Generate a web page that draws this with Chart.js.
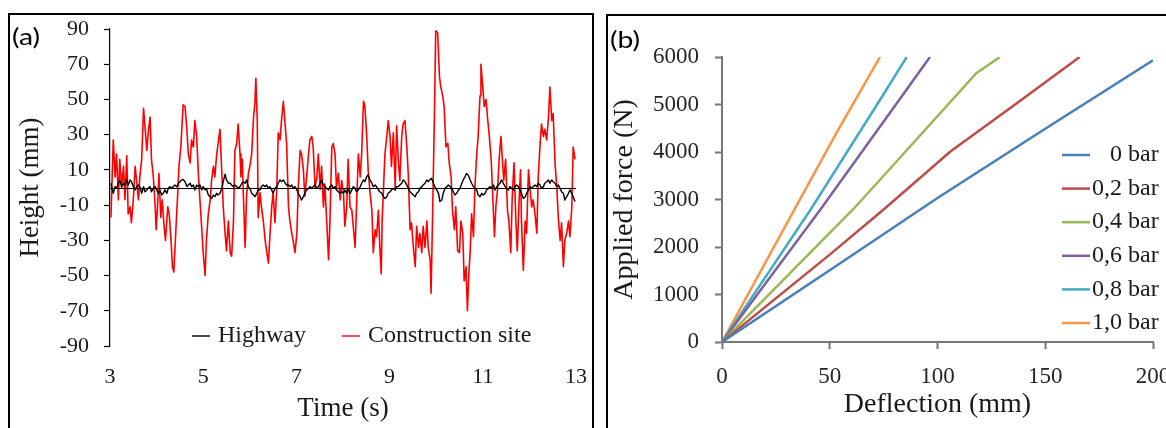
<!DOCTYPE html>
<html>
<head>
<meta charset="utf-8">
<title>Road height and applied force</title>
<script src="https://cdn.jsdelivr.net/npm/chart.js@4.4.0/dist/chart.umd.min.js"></script>
<style>
  * { margin: 0; padding: 0; }
  html, body { width: 1166px; height: 428px; overflow: hidden; background: #fff; }
  .panel { position: absolute; border: 2px solid #000; }
  #panelA { left: 8px; top: 13px; width: 582px; height: 440px; }
  #panelB { left: 606px; top: 14px; width: 600px; height: 440px; }
  .panel canvas { position: absolute; left: 0; top: 0; }
  .tag { position: absolute; font-family: Lato, 'Open Sans', sans-serif; font-size: 24px; line-height: 24px; color: #000;
         transform: scaleX(1.18); transform-origin: left center; }
</style>
</head>
<body>
  <div class="panel" id="panelA"><canvas id="chartA" width="582" height="413"></canvas></div>
  <div class="panel" id="panelB"><canvas id="chartB" width="580" height="412"></canvas></div>
  <div class="tag" style="left:12px; top:24px;">(a)</div>
  <div class="tag" style="left:610px; top:27px;">(b)</div>

<script>
// (a) Height (mm) against time (s)
const highwayTime = [
  3.02,3.07,3.11,3.14,3.18,3.21,3.25,3.29,3.32,3.36,3.39,3.43,3.46,3.50,3.54,3.57,3.61,3.64,3.68,3.72,
  3.75,3.79,3.82,3.86,3.89,3.93,3.97,4.00,4.04,4.07,4.11,4.14,4.18,4.22,4.25,4.29,4.32,4.36,4.39,4.43,
  4.47,4.50,4.54,4.57,4.61,4.65,4.68,4.72,4.75,4.79,4.82,4.86,4.90,4.93,4.97,5.00,5.04,5.07,5.11,5.15,
  5.18,5.22,5.25,5.29,5.32,5.36,5.40,5.43,5.47,5.50,5.54,
  5.58,5.61,5.65,5.68,5.72,5.75,5.79,5.83,5.86,5.90,5.93,5.97,6.00,6.04,6.08,6.11,6.15,6.18,6.22,6.25,
  6.29,6.33,6.36,6.40,6.43,6.47,6.50,6.54,6.58,6.61,6.65,6.68,6.72,6.76,6.79,6.83,6.86,6.90,6.93,6.97,
  7.01,7.04,7.08,7.11,7.15,7.18,7.22,7.26,7.29,7.33,7.36,7.40,7.44,7.47,7.51,7.54,7.58,7.61,7.65,7.69,
  7.72,7.76,7.79,7.83,7.86,7.90,7.94,7.97,8.01,8.04,8.08,8.11,
  8.15,8.19,8.22,8.26,8.29,8.33,8.37,8.40,8.44,8.47,8.51,8.54,8.58,8.62,8.65,8.69,8.72,8.76,8.79,8.83,
  8.87,8.90,8.94,8.97,9.01,9.04,9.08,9.12,9.15,9.19,9.22,9.26,9.29,9.33,9.37,9.40,9.44,9.47,9.51,9.55,
  9.58,9.62,9.65,9.69,9.72,9.76,9.80,9.83,9.87,9.90,9.94,9.97,10.01,10.05,10.08,10.12,10.15,10.19,10.23,10.26,
  10.30,10.33,10.37,10.40,10.44,10.48,10.51,10.55,10.58,10.62,10.65,10.69,
  10.73,10.76,10.80,10.83,10.87,10.90,10.94,10.98,11.01,11.05,11.08,11.12,11.15,11.19,11.23,11.26,11.30,11.33,11.37,11.40,
  11.44,11.48,11.51,11.55,11.58,11.62,11.66,11.69,11.73,11.76,11.80,11.83,11.87,11.91,11.94,11.98,12.01,12.05,12.08,12.12,
  12.16,12.19,12.23,12.26,12.30,12.33,12.37,12.41,12.44,12.48,12.51,12.55,12.59,12.62,12.66,12.69,12.73,12.76,12.80,12.84,
  12.87,12.91,12.94,12.98
];
const highwayHeight = [
  2.4,-3.3,0.5,-0.5,2.4,4.3,0.5,2.4,1.4,4.3,1.4,4.3,3.3,0.5,-1.4,0.5,1.4,0.5,-3.3,0.5,
  -2.4,-1.4,-0.5,0.5,-2.4,-0.5,0.5,-1.4,-3.3,-1.4,-4.3,-3.3,-1.4,-3.3,-0.5,0.5,-0.5,0.5,1.4,0.5,
  2.4,3.3,4.3,4.6,3.3,0.5,1.4,2.4,0.5,1.4,-1.4,1.4,0.5,1.4,-1.4,0.5,-1.4,-0.5,-4.3,-5.2,
  -6.2,-4.3,-5.2,-3.3,-4.3,-3.3,-0.5,3.3,7.5,4.3,2.4,
  2.4,1.4,0.5,1.4,0.5,-0.5,0.5,2.4,3.3,2.4,4.3,0.5,-0.5,-3.3,-4.3,-5.2,-3.3,-1.4,-1.4,0.5,
  1.4,0.5,1.4,-0.5,0.5,-1.4,-3.3,-0.5,0.5,2.4,4.3,3.3,4.3,2.4,1.4,1.4,0.5,1.4,-0.5,0.5,
  -1.4,-3.3,-5.2,-7.1,-5.2,-3.3,-1.4,-0.5,0.5,-0.5,0.5,1.4,-0.5,0.5,2.4,4.3,1.4,0.5,-0.5,-1.4,
  0.5,1.4,-0.5,0.5,-1.4,-2.4,-3.3,-2.4,-3.3,-1.4,-3.3,-0.5,
  -3.3,-1.4,0.5,-0.5,-2.4,-1.4,0.5,2.4,4.3,3.3,6.2,7.1,4.3,2.4,0.5,1.4,0.5,-1.4,-2.4,-3.3,
  -5.2,-6.2,-5.2,-3.3,-2.4,-1.4,-0.5,-1.4,0.5,0.5,1.4,2.4,4.3,3.3,1.4,-0.5,-2.4,-3.3,-4.3,-5.2,
  -3.3,-2.4,-0.5,0.5,1.4,2.4,4.3,3.3,4.6,5.2,2.4,0.5,-1.4,-3.3,-8.0,-7.1,-3.3,-0.5,0.5,1.4,
  0.5,-0.5,-2.4,-4.3,-3.3,-1.4,-0.5,2.4,4.3,6.2,8.0,7.0,
  4.3,2.4,0.5,-0.5,-1.4,-4.3,-5.2,-3.3,-4.3,-3.3,-1.4,-0.5,0.5,-0.5,1.4,-1.4,0.5,1.4,2.4,4.3,
  2.4,0.5,-0.5,-1.4,0.5,-0.5,-1.4,0.5,1.4,0.5,-1.4,-3.3,-6.2,-5.2,-3.3,-1.4,0.5,-0.5,0.5,1.4,
  0.5,2.4,1.4,-0.5,0.5,2.4,3.3,4.3,2.4,4.3,3.3,2.4,0.5,1.4,-0.5,-2.4,-3.3,-7.1,-5.2,-3.3,
  -1.4,-3.3,-5.2,-8.0
];
const siteTime = [
  3.02,3.07,3.11,3.14,3.18,3.21,3.25,3.29,3.32,3.36,3.39,3.43,3.46,3.50,3.54,3.57,3.61,3.64,3.68,3.72,
  3.75,3.79,3.82,3.86,3.89,3.93,3.97,3.99,4.02,4.05,4.09,4.12,4.16,4.19,4.24,4.27,4.31,4.34,4.37,4.41,
  4.45,4.48,4.52,4.57,4.61,4.65,4.68,4.72,4.75,4.79,4.82,4.86,4.90,4.93,4.97,5.00,5.04,5.07,5.11,5.15,
  5.18,5.22,5.25,5.29,5.36,5.40,5.43,
  5.47,5.50,5.54,5.58,5.61,5.65,5.68,5.72,5.75,5.79,5.81,5.84,5.86,5.90,5.93,5.97,6.00,6.04,6.08,6.11,
  6.13,6.16,6.18,6.22,6.25,6.29,6.33,6.36,6.40,6.43,6.47,6.50,6.54,6.58,6.61,6.65,6.68,6.72,6.76,6.79,
  6.83,6.86,6.90,6.93,6.97,7.01,7.04,7.08,7.11,7.15,7.18,7.22,7.26,7.29,7.33,7.36,7.40,7.44,7.47,7.51,
  7.54,7.58,7.61,7.65,7.69,7.72,7.76,7.79,7.83,7.86,7.90,7.94,7.97,8.01,8.04,8.08,8.11,
  8.15,8.19,8.22,8.26,8.29,8.33,8.37,8.40,8.44,8.47,8.51,8.54,8.58,8.62,8.65,8.69,8.72,8.76,8.79,8.82,
  8.84,8.87,8.90,8.94,8.97,9.01,9.04,9.08,9.12,9.15,9.19,9.22,9.26,9.29,9.33,9.37,9.40,9.44,9.47,9.51,
  9.55,9.58,9.62,9.65,9.69,9.72,9.76,9.80,9.83,9.87,9.89,9.92,9.96,9.99,10.03,10.07,10.10,10.14,10.17,10.21,
  10.25,10.28,10.32,10.35,10.39,10.42,10.46,10.50,10.53,10.57,10.60,10.64,10.67,10.70,
  10.73,10.76,10.80,10.83,10.87,10.90,10.94,10.96,11.00,11.03,11.07,11.10,11.14,11.18,11.21,11.25,11.28,11.32,11.35,11.39,
  11.42,11.45,11.49,11.53,11.56,11.60,11.63,11.67,11.71,11.74,11.78,11.81,11.83,11.87,11.91,11.94,11.98,12.01,12.05,12.08,
  12.12,12.16,12.19,12.23,12.26,12.30,12.33,12.37,12.41,12.44,12.48,12.51,12.55,12.59,12.62,12.66,12.69,12.73,12.76,12.80,
  12.84,12.87,12.91,12.94,12.98
];
const siteHeight = [
  -17,27,6,19,-7,16,0,12,-7,18,-15,-11,-20,-7,12,4,-7,6,16,45,
  35,21,31,40,16,6,-11,-24,-11,8,-17,-7,-22,-30,-11,-15,-30,-45,-48,-26,
  -5,12,23,47,46,33,19,14,27,23,38,29,6,-7,-24,-37,-50,-30,-15,-7,
  4,12,6,19,33,8,-11,
  -26,-36,-19,-37,-39,-19,21,25,36,19,6,16,-3,-34,-5,8,12,19,40,48,
  62,38,-17,-3,-11,-19,-30,-36,-43,-28,-11,-3,-20,0,31,27,38,49,35,25,
  -11,-19,-26,-30,-37,-26,0,21,19,10,-5,6,19,27,29,23,0,6,19,-1,
  12,-11,2,-19,-41,-19,23,25,19,0,8,-7,4,-3,-22,-11,16,
  -11,-13,-22,-34,-11,19,6,19,49,46,29,10,-3,-13,-37,-24,-28,-13,-34,-49,
  -19,0,19,29,38,29,12,31,0,35,14,4,29,36,38,23,8,-24,-20,-34,
  -45,-22,-34,-26,-37,-22,-34,-19,-34,-41,-60,-19,38,89,88,63,57,52,46,23,
  25,14,6,-13,-24,-11,-36,-37,-19,-26,-53,-45,-70,-49,
  -36,-15,-28,0,19,29,52,70,57,46,50,40,29,16,-3,-28,-11,0,16,29,
  16,4,16,-13,-19,-37,-7,14,-19,-36,-7,10,-19,-47,-19,-26,10,0,-11,-7,
  -15,-26,6,25,36,29,33,27,40,57,38,42,14,-1,-17,-30,-20,-45,-30,-26,
  -19,-28,-11,23,16
];
const timeTicks = { min: 3, max: 13, step: 2 };
const heightTicks = { min: -90, max: 90, step: 20 };

// (b) Applied force (N) against deflection (mm), one pair of arrays per pressure
const pressureLabels = ['0 bar', '0,2 bar', '0,4 bar', '0,6 bar', '0,8 bar', '1,0 bar'];
const defl00 = [0, 50, 100, 150, 200];
const force00 = [0, 1510, 3030, 4490, 5930];
const defl02 = [0, 50, 75, 106, 136, 166];
const force02 = [0, 1840, 2790, 4010, 5000, 6000];
const defl04 = [0, 61, 83, 118, 129];
const force04 = [0, 2800, 3900, 5660, 6000];
const defl06 = [0, 45.5, 73.3, 96.5];
const force06 = [0, 2780, 4530, 6000];
const defl08 = [0, 41, 73.3, 85.7];
const force08 = [0, 2780, 5095, 6000];
const defl10 = [0, 33, 53, 73.3];
const force10 = [0, 2740, 4390, 6000];
const deflTicks = { min: 0, max: 200, step: 50 };
const forceTicks = { min: 0, max: 6000, step: 1000 };

const pressureColors = ['#4a7ebb', '#be4b48', '#98b954', '#7d60a0', '#46aac5', '#f79646'];

Chart.defaults.font.family = "'Liberation Serif', 'Times New Roman', serif";

const pairs = (xs, ys) => xs.map((x, i) => ({ x: x, y: ys[i] }));

// fixed axis box; label overflow is left to the layout padding
const fixWidth = w => s => { s.width = w; s.paddingTop = 0; s.paddingBottom = 0; };
const fixHeight = h => s => { s.height = h; s.paddingLeft = 0; s.paddingRight = 0; };

// legend drawn inside the plot, like the original
const inlineLegend = {
  id: 'inlineLegend',
  afterDraw(chart, args, opts) {
    const ctx = chart.ctx;
    const sets = chart.data.datasets;
    ctx.save();
    ctx.font = opts.font;
    ctx.textBaseline = 'middle';
    const widest = Math.max(...sets.map(d => ctx.measureText(d.label).width));
    let x = opts.x, y = opts.y;
    sets.forEach(ds => {
      ctx.strokeStyle = ds.borderColor;
      ctx.lineWidth = opts.lineWidth;
      ctx.beginPath();
      ctx.moveTo(x, y);
      ctx.lineTo(x + opts.lineLength, y);
      ctx.stroke();
      ctx.fillStyle = opts.color;
      if (opts.vertical) {
        ctx.textAlign = 'right';
        ctx.fillText(ds.label, x + opts.lineLength + opts.gap + widest, y);
        y += opts.spacing;
      } else {
        ctx.textAlign = 'left';
        ctx.fillText(ds.label, x + opts.lineLength + opts.gap, y);
        x += opts.lineLength + opts.gap + ctx.measureText(ds.label).width + opts.spacing;
      }
    });
    ctx.restore();
  }
};

// horizontal axis of (a) crosses at height 0
const zeroLine = {
  id: 'zeroLine',
  afterDatasetsDraw(chart) {
    const { ctx, chartArea, scales } = chart;
    const py = Math.round(scales.y.getPixelForValue(0)) + 0.5;
    ctx.save();
    ctx.strokeStyle = '#000';
    ctx.lineWidth = 1.2;
    ctx.beginPath();
    ctx.moveTo(chartArea.left, py);
    ctx.lineTo(chartArea.right, py);
    ctx.stroke();
    ctx.restore();
  }
};

new Chart(document.getElementById('chartA'), {
  type: 'line',
  data: {
    datasets: [
      { label: 'Highway', data: pairs(highwayTime, highwayHeight), borderColor: '#000000', borderWidth: 1.4 },
      { label: 'Construction site', data: pairs(siteTime, siteHeight), borderColor: '#ff0000', borderWidth: 1.6 }
    ]
  },
  options: {
    responsive: false,
    animation: false,
    elements: { point: { radius: 0 }, line: { tension: 0, borderJoinStyle: 'round' } },
    layout: { padding: { left: 0, right: 16, top: 14, bottom: 0 } },
    plugins: {
      legend: { display: false },
      tooltip: { enabled: false },
      inlineLegend: { x: 182, y: 321, lineLength: 18, gap: 8, spacing: 36, lineWidth: 1.4,
                      font: "24px 'Liberation Serif', serif", color: '#1a1a1a', vertical: false }
    },
    scales: {
      x: {
        type: 'linear', min: timeTicks.min, max: timeTicks.max,
        afterFit: fixHeight(82),
        grid: { display: false, drawTicks: false },
        border: { display: false },
        ticks: { stepSize: timeTicks.step, autoSkip: false, maxRotation: 0, padding: 18,
                 color: '#1a1a1a', font: { size: 22 }, callback: v => String(v) },
        title: { display: true, text: 'Time (s)', color: '#1a1a1a', font: { size: 27 }, padding: { top: 0, bottom: 3 } }
      },
      y: {
        type: 'linear', min: heightTicks.min, max: heightTicks.max,
        afterFit: fixWidth(100),
        grid: { drawOnChartArea: false, tickColor: '#000', tickLength: 6, tickWidth: 1.2 },
        border: { display: true, color: '#000', width: 1.2 },
        ticks: { stepSize: heightTicks.step, autoSkip: false, padding: 15,
                 color: '#1a1a1a', font: { size: 22 }, callback: v => String(v) },
        title: { display: true, text: 'Height (mm)', color: '#1a1a1a', font: { size: 27 }, padding: { top: 5, bottom: 0 } }
      }
    }
  },
  plugins: [inlineLegend, zeroLine]
});

const deflSets = [defl00, defl02, defl04, defl06, defl08, defl10];
const forceSets = [force00, force02, force04, force06, force08, force10];

new Chart(document.getElementById('chartB'), {
  type: 'line',
  data: {
    datasets: pressureLabels.map((label, i) => ({
      label: label,
      data: pairs(deflSets[i], forceSets[i]),
      borderColor: pressureColors[i],
      borderWidth: 2.5
    }))
  },
  options: {
    responsive: false,
    animation: false,
    elements: { point: { radius: 0 }, line: { tension: 0 } },
    layout: { padding: { left: 0, right: 35, top: 41, bottom: 0 } },
    plugins: {
      legend: { display: false },
      tooltip: { enabled: false },
      inlineLegend: { x: 454, y: 139, lineLength: 28, gap: 2, spacing: 33.6, lineWidth: 2.5,
                      font: "24px 'Liberation Serif', serif", color: '#1a1a1a', vertical: true }
    },
    scales: {
      x: {
        type: 'linear', min: deflTicks.min, max: deflTicks.max,
        afterFit: fixHeight(86),
        grid: { drawOnChartArea: false, tickColor: '#777', tickLength: 7, tickWidth: 2 },
        border: { display: true, color: '#777', width: 2 },
        ticks: { stepSize: deflTicks.step, autoSkip: false, maxRotation: 0, padding: 14,
                 color: '#262626', font: { size: 23 }, callback: v => String(v) },
        title: { display: true, text: 'Deflection (mm)', color: '#1a1a1a', font: { size: 28 }, padding: { top: 0, bottom: 7 } }
      },
      y: {
        type: 'linear', min: forceTicks.min, max: forceTicks.max,
        afterFit: fixWidth(114),
        grid: { drawOnChartArea: false, tickColor: '#777', tickLength: 7, tickWidth: 2 },
        border: { display: true, color: '#777', width: 2 },
        ticks: { stepSize: forceTicks.step, autoSkip: false, padding: 16,
                 color: '#262626', font: { size: 23 }, callback: v => String(v) },
        title: { display: true, text: 'Applied force (N)', color: '#1a1a1a', font: { size: 28 }, padding: { top: 0, bottom: 0 } }
      }
    }
  },
  plugins: [inlineLegend]
});
</script>
</body>
</html>
